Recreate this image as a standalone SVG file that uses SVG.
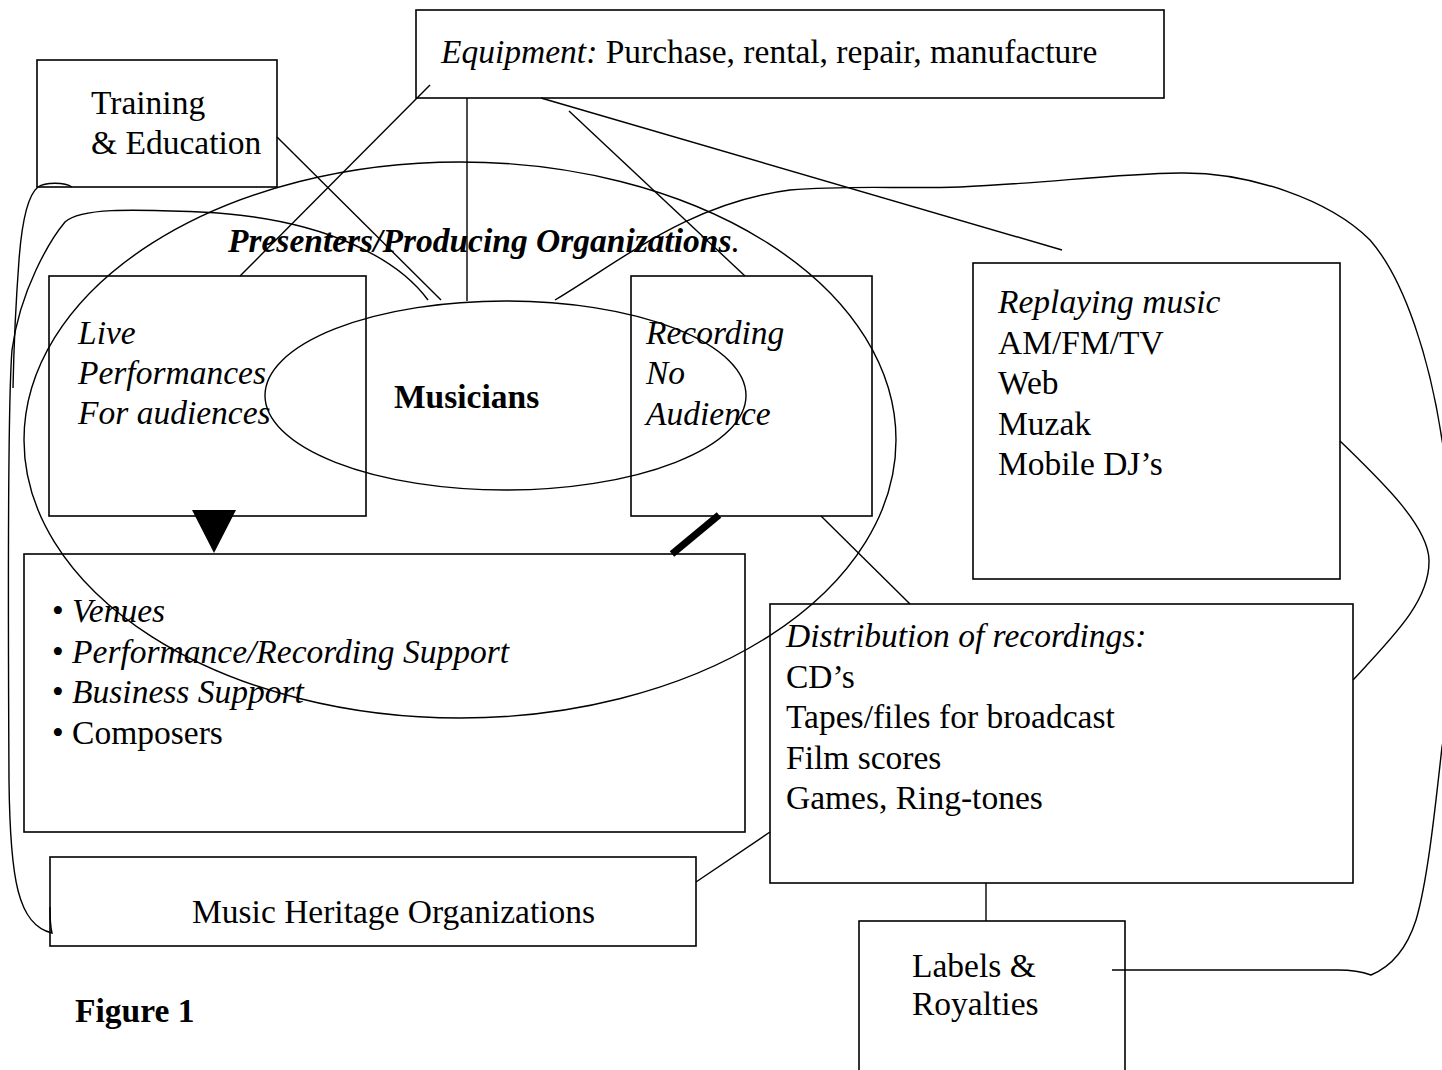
<svg xmlns="http://www.w3.org/2000/svg" width="1442" height="1070" viewBox="0 0 1442 1070">
<style>
.t{font-family:"Liberation Serif","Times New Roman",serif;font-size:33.5px;fill:#000}
.i{font-style:italic}
.b{font-weight:bold}
.box{fill:none;stroke:#000;stroke-width:1.6}
.ln{fill:none;stroke:#000;stroke-width:1.4}
</style>
<rect width="1442" height="1070" fill="#fff"/>
<g id="connectors">
<line class="ln" x1="430" y1="85" x2="240" y2="276"/>
<line class="ln" x1="467" y1="98" x2="467" y2="301"/>
<line class="ln" x1="569" y1="111" x2="745" y2="276"/>
<line class="ln" x1="541" y1="98" x2="1062" y2="250"/>
<line class="ln" x1="277" y1="137" x2="441" y2="300"/>
<path class="ln" d="M428,300 C400,262 330,218 200,212 C130,209 80,208 65,222 C50,240 20,290 12,350 C8,400 8,600 9,780 C10,880 18,925 52,933 C50,925 50,915 50,907"/>
<path class="ln" d="M72,187 C65,182 45,182 38,187 C28,195 22,220 19,260 C16,300 14,340 13,388"/>
<path class="ln" d="M555,300 C625,258 690,203 790,190 C850,185 900,189 960,187 C1050,183 1110,174 1180,173 C1250,172 1330,200 1370,240 C1405,280 1430,360 1442,440 C1460,540 1455,680 1442,747 C1436,800 1428,880 1416,920 C1408,945 1395,965 1371,975 C1360,971 1350,970 1338,970 L1112,970"/>
<path class="ln" d="M1340,441 C1380,480 1428,525 1429,560 C1430,600 1395,635 1353,680"/>
<line class="ln" x1="821" y1="516" x2="910" y2="604"/>
<line class="ln" x1="770" y1="832" x2="696" y2="882"/>
<line class="ln" x1="986" y1="883" x2="986" y2="921"/>
<polygon points="192,510 236,510 214,553" fill="#000"/>
<line x1="672" y1="554" x2="719" y2="515" stroke="#000" stroke-width="7"/>
</g>
<g id="presenters">
<ellipse class="ln" cx="460" cy="440" rx="436" ry="278"/>
<text class="t i b" x="228" y="252">Presenters/Producing Organizations<tspan font-weight="normal">.</tspan></text>
</g>
<g id="musicians">
<ellipse class="ln" cx="505.5" cy="395.5" rx="240.5" ry="94.5"/>
<text class="t b" x="394" y="408">Musicians</text>
</g>
<g id="equipment">
<rect class="box" x="416" y="10" width="748" height="88"/>
<text class="t" x="441" y="63"><tspan class="i">Equipment:</tspan> Purchase, rental, repair, manufacture</text>
</g>
<g id="training">
<rect class="box" x="37" y="60" width="240" height="127"/>
<text class="t" x="91" y="114">Training</text>
<text class="t" x="91" y="154">&amp; Education</text>
</g>
<g id="live">
<rect class="box" x="49" y="276" width="317" height="240"/>
<text class="t i" x="78" y="344">Live</text>
<text class="t i" x="78" y="384">Performances</text>
<text class="t i" x="78" y="424">For audiences</text>
</g>
<g id="recording">
<rect class="box" x="631" y="276" width="241" height="240"/>
<text class="t i" x="646" y="344">Recording</text>
<text class="t i" x="646" y="384">No</text>
<text class="t i" x="646" y="425">Audience</text>
</g>
<g id="replaying">
<rect class="box" x="973" y="263" width="367" height="316"/>
<text class="t i" x="998" y="313">Replaying music</text>
<text class="t" x="998" y="353.5">AM/FM/TV</text>
<text class="t" x="998" y="394">Web</text>
<text class="t" x="998" y="434.5">Muzak</text>
<text class="t" x="998" y="475">Mobile DJ’s</text>
</g>
<g id="support">
<rect class="box" x="24" y="554" width="721" height="278"/>
<text class="t" x="52" y="622">• <tspan class="i">Venues</tspan></text>
<text class="t" x="52" y="663">• <tspan class="i">Performance/Recording Support</tspan></text>
<text class="t" x="52" y="703">• <tspan class="i">Business Support</tspan></text>
<text class="t" x="52" y="744">• Composers</text>
</g>
<g id="distribution">
<rect class="box" x="770" y="604" width="583" height="279"/>
<text class="t i" x="786" y="647">Distribution of recordings:</text>
<text class="t" x="786" y="687.5">CD’s</text>
<text class="t" x="786" y="728">Tapes/files for broadcast</text>
<text class="t" x="786" y="768.5">Film scores</text>
<text class="t" x="786" y="809">Games, Ring-tones</text>
</g>
<g id="heritage">
<rect class="box" x="50" y="857" width="646" height="89"/>
<text class="t" x="192" y="923">Music Heritage Organizations</text>
</g>
<g id="labels">
<rect class="box" x="859" y="921" width="266" height="170"/>
<text class="t" x="912" y="977">Labels &amp;</text>
<text class="t" x="912" y="1015">Royalties</text>
</g>
<g id="caption">
<text class="t b" x="75" y="1022">Figure 1</text>
</g>
</svg>
